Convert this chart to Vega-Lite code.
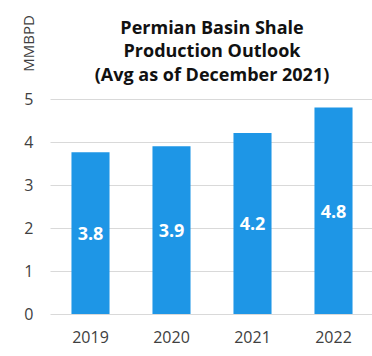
{
  "$schema": "https://vega.github.io/schema/vega-lite/v6.json",
  "width": 324,
  "height": 215,
  "autosize": {"type": "none"},
  "padding": {"left": 50, "top": 99, "right": 0, "bottom": 42},
  "background": "white",
  "title": {
    "text": ["Permian Basin Shale", "Production Outlook", "(Avg as of December 2021)"],
    "font": "Open Sans",
    "fontSize": 18,
    "fontWeight": "bold",
    "color": "#111111",
    "lineHeight": 23.5,
    "anchor": "middle",
    "offset": -70
  },
  "config": {
    "view": {"stroke": null},
    "font": "Open Sans"
  },
  "data": {
    "values": [
      {"year": "2019", "value": 3.76},
      {"year": "2020", "value": 3.9},
      {"year": "2021", "value": 4.21},
      {"year": "2022", "value": 4.8}
    ]
  },
  "encoding": {
    "x": {
      "field": "year",
      "type": "nominal",
      "sort": null,
      "scale": {"paddingInner": 0.53, "paddingOuter": 0.265},
      "axis": {
        "title": null,
        "labelAngle": 0,
        "domain": false,
        "ticks": false,
        "tickSize": 0,
        "labelPadding": 15,
        "labelFont": "Open Sans",
        "labelFontSize": 16,
        "labelColor": "#404040"
      }
    }
  },
  "layer": [
    {
      "mark": {"type": "bar", "color": "#1E96E6"},
      "encoding": {
        "y": {
          "field": "value",
          "type": "quantitative",
          "scale": {"domain": [0, 5], "nice": false},
          "axis": {
            "title": "MMBPD",
            "titleFont": "Open Sans",
            "titleFontSize": 15,
            "titleFontWeight": "normal",
            "titleColor": "#404040",
            "titleAngle": -90,
            "titleX": -22,
            "titleY": -56,
            "titleAlign": "center",
            "titleBaseline": "middle",
            "values": [0, 1, 2, 3, 4, 5],
            "domain": false,
            "ticks": false,
            "tickSize": 0,
            "labelPadding": 17,
            "labelFont": "Open Sans",
            "labelFontSize": 16,
            "labelColor": "#404040",
            "grid": true,
            "gridColor": "#d9d9d9",
            "gridWidth": 1
          }
        }
      }
    },
    {
      "transform": [{"calculate": "datum.value / 2", "as": "mid"}],
      "mark": {
        "type": "text",
        "color": "white",
        "font": "Open Sans",
        "fontSize": 18,
        "fontWeight": "bold",
        "baseline": "middle",
        "dy": 2
      },
      "encoding": {
        "y": {"field": "mid", "type": "quantitative"},
        "text": {"field": "value", "type": "quantitative", "format": ".1f"}
      }
    }
  ]
}
